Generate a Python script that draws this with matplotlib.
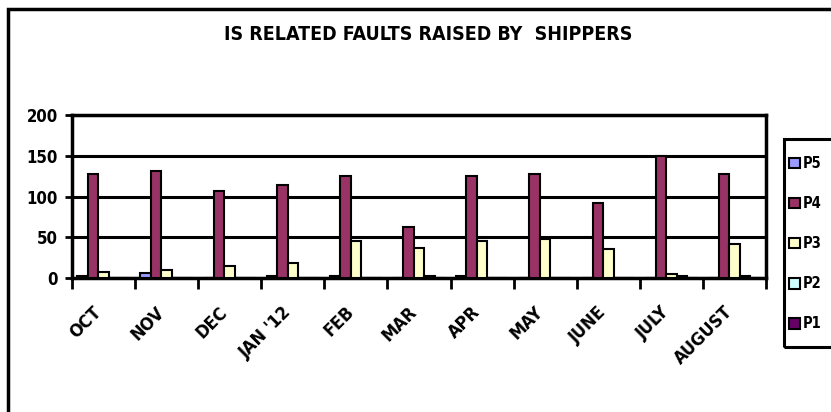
import numpy as np
import matplotlib
matplotlib.use("Agg")
import matplotlib.pyplot as plt
import matplotlib.transforms as mtransforms
from matplotlib.patches import Rectangle, Patch

# data
months = ["OCT", "NOV", "DEC", "JAN '12", "FEB", "MAR", "APR", "MAY", "JUNE", "JULY", "AUGUST"]
p5 = [3, 6, 0, 2, 2, 0, 2, 0, 0, 0, 0]
p4 = [127, 131, 107, 114, 125, 63, 125, 128, 92, 150, 128]
p3 = [7, 10, 15, 19, 46, 37, 46, 48, 35, 5, 42]
p2 = [0, 0, 0, 0, 0, 2, 0, 0, 0, 2, 2]
p1 = [0, 0, 0, 0, 0, 0, 0, 0, 0, 0, 0]

series = [("P5", p5, "#9999FF"), ("P4", p4, "#993366"), ("P3", p3, "#FFFFCC"),
          ("P2", p2, "#CCFFFF"), ("P1", p1, "#660066")]

plt.rcParams['font.family'] = ["DejaVu Sans"]
plt.rcParams['font.stretch'] = 'condensed'
plt.rcParams['font.weight'] = 'bold'

fig = plt.figure(figsize=(8.31, 4.12), dpi=100)
W, H = 831, 412
ax = fig.add_axes([72 / W, 1 - 278 / H, (766 - 72) / W, (278 - 115) / H])

x = np.arange(len(months))
bw = 0.166
for i, (name, vals, col) in enumerate(series):
    ax.bar(x + (i - 2) * bw, vals, bw, color=col, edgecolor="black", linewidth=1.5, zorder=3)

ax.set_xlim(-0.5, len(months) - 0.5)
ax.set_ylim(0, 200)
ax.set_yticks([0, 50, 100, 150, 200])
ax.yaxis.grid(True, color="black", linewidth=2.2, zorder=1)
ax.tick_params(axis='y', direction='inout', length=10, width=2, pad=5, labelsize=12)
ax.set_xticks(x)
ax.set_xticklabels(months, rotation=45, ha='right', rotation_mode='anchor', fontsize=13)
ax.tick_params(axis='x', length=0, pad=18)
shift = mtransforms.ScaledTranslation(-11 / 100, 0, fig.dpi_scale_trans)
for lab in ax.get_xticklabels():
    lab.set_transform(lab.get_transform() + shift)
ax.set_xticks(np.arange(len(months) + 1) - 0.5, minor=True)
ax.tick_params(axis='x', which='minor', direction='out', length=8, width=2)
for s in ax.spines.values():
    s.set_linewidth(2.5)

fig.text(428 / W, 1 - 34 / H, "IS RELATED FAULTS RAISED BY  SHIPPERS",
         ha='center', va='center', fontsize=14, fontweight='heavy')

# legend box runs past the right edge, like the reference
fig.patches.append(Rectangle((784 / W, 1 - 347 / H), 0.2, (347 - 139) / H, transform=fig.transFigure,
                             fill=False, edgecolor="black", linewidth=2.2))
handles = [Patch(facecolor=c, edgecolor="black", linewidth=1.5, label=n) for n, v, c in series]
leg = fig.legend(handles=handles, loc='upper left', bbox_to_anchor=(789 / W, 1 - 156 / H),
                 frameon=False, handlelength=0.75, handleheight=0.75,
                 handletextpad=0.2, labelspacing=1.72, borderpad=0, fontsize=10.5,
                 borderaxespad=0)

# outer chart frame
fig.patches.append(Rectangle((8 / W, -0.1), 1.1, 1 - 9 / H + 0.1, transform=fig.transFigure,
                             fill=False, edgecolor="black", linewidth=2.5))

fig.savefig("out.png", dpi=100)
